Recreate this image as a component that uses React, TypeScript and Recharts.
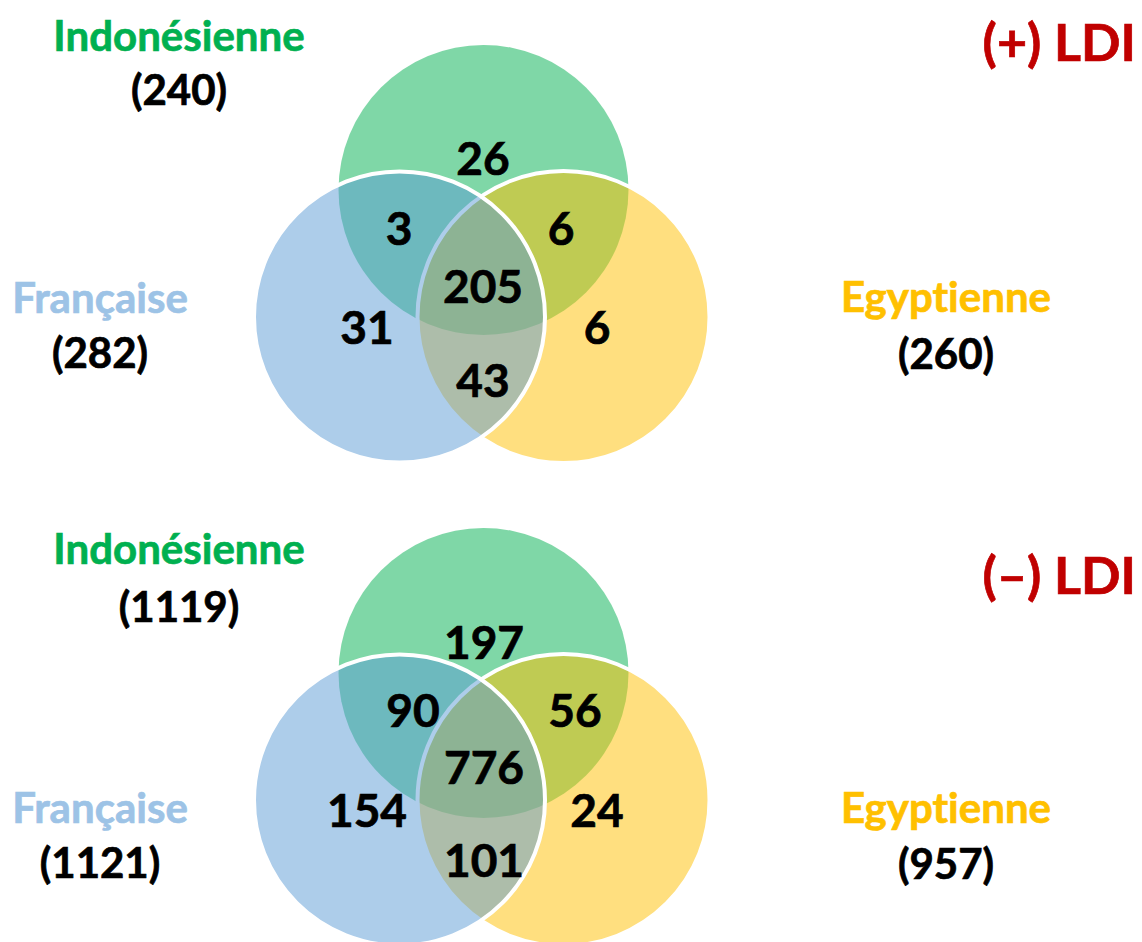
import React from 'react';
import { ScatterChart, Scatter, XAxis, YAxis } from 'recharts';

const W = 1142;
const H = 942;

// ---- data ----
const sets = ['Indonésienne', 'Française', 'Egyptienne'];
const panelTitles = ['(+) LDI', '(–) LDI'];
const totalsPlus = [240, 282, 260];
const totalsMinus = [1119, 1121, 957];
// regions: I only, I∩F, I∩E, I∩F∩E, F only, E only, F∩E
const regionKeys = ['I', 'IF', 'IE', 'IFE', 'F', 'E', 'FE'];
const countsPlus = [26, 3, 6, 205, 31, 6, 43];
const countsMinus = [197, 90, 56, 776, 154, 24, 101];

// ---- layout (chart units, 1 unit = 1px) ----
const panelOffsets = [0, 483];
const circleLayout: Record<string, { x: number; y: number; r: number }> = {
  'Indonésienne': { x: 483.5, y: 190, r: 145 },
  'Egyptienne': { x: 563.5, y: 317, r: 146 },
  'Française': { x: 399.5, y: 317, r: 145.5 },
};
const drawOrder = ['Indonésienne', 'Egyptienne', 'Française'];

const regionLayout = [
  { I: [483, 158], IF: [399, 228], IE: [561, 228], IFE: [483, 286], F: [367, 327], E: [597, 327], FE: [483, 380] },
  { I: [484, 159], IF: [413, 227], IE: [575, 227], IFE: [484, 284], F: [367, 327], E: [597, 327], FE: [484, 377] },
];
const nameLayout = [
  { 'Indonésienne': [179, 36, 90], 'Française': [100, 298, 353], 'Egyptienne': [946, 297, 354] },
  { 'Indonésienne': [179, 549, 607], 'Française': [100, 808, 863], 'Egyptienne': [946, 808, 864] },
];
const titleLayout = [[1136, 42], [1136, 575]];

// ---- styles ----
const setFill: Record<string, string> = {
  'Indonésienne': '#00B050',
  'Française': '#5B9BD5',
  'Egyptienne': '#FFC000',
};
const setText: Record<string, string> = {
  'Indonésienne': '#00B050',
  'Française': '#9DC3E6',
  'Egyptienne': '#FFC000',
};
const setStroke: Record<string, boolean> = {
  'Indonésienne': false,
  'Française': true,
  'Egyptienne': true,
};
const FONT = 'Lato, "Open Sans", sans-serif';

const totals = [totalsPlus, totalsMinus];
const counts = [countsPlus, countsMinus];

const circleData = panelOffsets.flatMap((off) =>
  drawOrder.map((s) => ({ x: circleLayout[s].x, y: circleLayout[s].y + off, r: circleLayout[s].r, set: s }))
);

const regionData = panelOffsets.flatMap((off, p) =>
  regionKeys.map((k, i) => {
    const pos = (regionLayout[p] as any)[k];
    return { x: pos[0], y: pos[1] + off, label: String(counts[p][i]) };
  })
);

const nameData = panelOffsets.flatMap((_, p) =>
  sets.map((s) => {
    const pos = (nameLayout[p] as any)[s];
    return { x: pos[0], y: pos[1], label: s, set: s };
  })
);

const totalData = panelOffsets.flatMap((_, p) =>
  sets.map((s, i) => {
    const pos = (nameLayout[p] as any)[s];
    return { x: pos[0], y: pos[2], label: `(${totals[p][i]})` };
  })
);

const titleData = panelTitles.map((t, p) => ({ x: titleLayout[p][0], y: titleLayout[p][1], label: t }));

const PX = W / W; // x-axis pixels per unit (domain spans full width)

const CircleShape = (props: any) => {
  const { cx, cy, payload } = props;
  const s = payload.set;
  return (
    <circle
      cx={cx}
      cy={cy}
      r={payload.r * PX}
      fill={setFill[s]}
      fillOpacity={0.5}
      stroke={setStroke[s] ? '#ffffff' : 'none'}
      strokeWidth={4}
    />
  );
};

const makeText = (size: number, color: (p: any) => string, anchor: string = 'middle') => (props: any) => {
  const { cx, cy, payload } = props;
  const c = color(payload);
  return (
    <text
      x={cx}
      y={cy}
      dy="0.36em"
      textAnchor={anchor}
      fontFamily={FONT}
      fontWeight={700}
      fontSize={size}
      fill={c}
      stroke={c}
      strokeWidth={0.7}
      letterSpacing="0.01px"
      style={{ fontVariantLigatures: 'none' }}
    >
      {payload.label}
    </text>
  );
};

const RegionText = makeText(46, () => '#000000');
const NameText = makeText(42, (p) => setText[p.set]);
const TotalText = makeText(42, () => '#000000');
const TitleText = makeText(52, () => '#C00000', 'end');

export default function App() {
  return (
    <div style={{ position: 'absolute', left: 0, top: 0, width: W, height: H, background: '#fff' }}>
      <ScatterChart width={W} height={H} margin={{ top: 0, right: 0, bottom: 0, left: 0 }}>
        <XAxis type="number" dataKey="x" domain={[0, W]} hide />
        <YAxis type="number" dataKey="y" domain={[0, H]} reversed hide />
        <Scatter data={circleData} shape={CircleShape} isAnimationActive={false} />
        <Scatter data={regionData} shape={RegionText} isAnimationActive={false} />
        <Scatter data={nameData} shape={NameText} isAnimationActive={false} />
        <Scatter data={totalData} shape={TotalText} isAnimationActive={false} />
        <Scatter data={titleData} shape={TitleText} isAnimationActive={false} />
      </ScatterChart>
    </div>
  );
}
